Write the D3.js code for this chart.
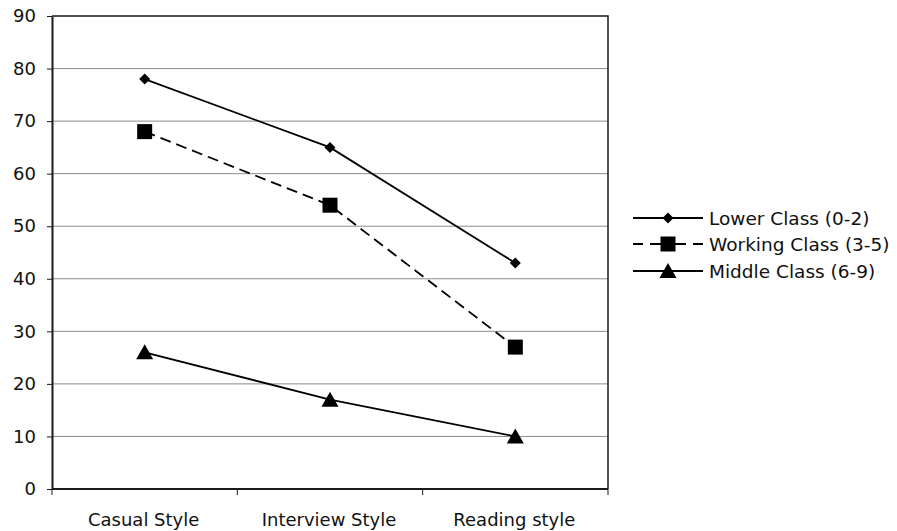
<!DOCTYPE html>
<html>
<head>
<meta charset="utf-8">
<script src="https://cdn.jsdelivr.net/npm/d3@7"></script>
<style>
  html, body { margin: 0; padding: 0; background: #fff; }
  svg { display: block; font-family: "DejaVu Sans", sans-serif; }
</style>
</head>
<body>
<svg id="chart" width="897" height="531"></svg>
<script>
// Speech styles along the x axis
const categories = ["Casual Style", "Interview Style", "Reading style"];

// Percentages per social class
const lowerClass = [78, 65, 43];
const workingClass = [68, 54, 27];
const middleClass = [26, 17, 10];

const seriesNames = ["Lower Class (0-2)", "Working Class (3-5)", "Middle Class (6-9)"];
const yTicks = [0, 10, 20, 30, 40, 50, 60, 70, 80, 90];

const series = [
  { name: seriesNames[0], values: lowerClass, dash: null, marker: "diamond" },
  { name: seriesNames[1], values: workingClass, dash: "11,6", marker: "square" },
  { name: seriesNames[2], values: middleClass, dash: null, marker: "triangle" }
];

const svg = d3.select("#chart");
const m = { left: 52, top: 16, right: 608, bottom: 489 };
const fontSize = 18;

const x = d3.scaleBand().domain(categories).range([m.left, m.right]);
const y = d3.scaleLinear().domain([0, 90]).range([m.bottom, m.top]);

// Horizontal gridlines
svg.append("g")
  .selectAll("line")
  .data(yTicks.filter(d => d > 0 && d < 90))
  .join("line")
  .attr("x1", m.left).attr("x2", m.right)
  .attr("y1", d => y(d)).attr("y2", d => y(d))
  .attr("stroke", "#8c8c8c").attr("stroke-width", 1);

// Plot frame (top and right)
svg.append("path")
  .attr("d", `M${m.left},${m.top}H${m.right}V${m.bottom}`)
  .attr("fill", "none").attr("stroke", "#1a1a1a").attr("stroke-width", 1.5);

// Y axis
const yAxis = svg.append("g")
  .attr("transform", `translate(${m.left},0)`)
  .call(d3.axisLeft(y).tickValues(yTicks).tickSize(5).tickPadding(11).tickSizeOuter(0));
yAxis.select(".domain").attr("stroke", "#1a1a1a").attr("stroke-width", 2);
yAxis.selectAll(".tick line").attr("stroke", "#1a1a1a");
yAxis.selectAll(".tick text").attr("font-size", fontSize).attr("fill", "#111")
  .attr("font-family", "DejaVu Sans, sans-serif");

// X axis: ticks sit at band boundaries, labels at band centres
const xAxisG = svg.append("g").attr("transform", `translate(0,${m.bottom})`);
xAxisG.append("line")
  .attr("x1", m.left).attr("x2", m.right)
  .attr("stroke", "#1a1a1a").attr("stroke-width", 2);
const boundaries = categories.map(c => x(c)).concat([x(categories[categories.length - 1]) + x.bandwidth()]);
xAxisG.selectAll(".bt")
  .data(boundaries)
  .join("line")
  .attr("x1", d => d).attr("x2", d => d)
  .attr("y1", 0).attr("y2", 6)
  .attr("stroke", "#1a1a1a").attr("stroke-width", 1);
xAxisG.selectAll(".xl")
  .data(categories)
  .join("text")
  .attr("x", d => x(d) + x.bandwidth() / 2 - 1)
  .attr("y", 37)
  .attr("text-anchor", "middle")
  .attr("font-size", fontSize).attr("fill", "#111")
  .text(d => d);

const cx = d => x(d) + x.bandwidth() / 2;

function drawMarker(g, type, px, py) {
  if (type === "diamond") {
    g.append("path")
      .attr("d", `M${px},${py - 5.5}L${px + 5.5},${py}L${px},${py + 5.5}L${px - 5.5},${py}Z`)
      .attr("fill", "#000");
  } else if (type === "square") {
    g.append("rect")
      .attr("x", px - 7.5).attr("y", py - 7.5)
      .attr("width", 15).attr("height", 15)
      .attr("fill", "#000");
  } else {
    g.append("path")
      .attr("d", `M${px},${py - 8}L${px + 8.5},${py + 7}L${px - 8.5},${py + 7}Z`)
      .attr("fill", "#000");
  }
}

const line = d3.line().x((d, i) => cx(categories[i])).y(d => y(d));

series.forEach(s => {
  const g = svg.append("g");
  g.append("path")
    .datum(s.values)
    .attr("d", line)
    .attr("fill", "none")
    .attr("stroke", "#000")
    .attr("stroke-width", 1.8)
    .attr("stroke-dasharray", s.dash);
  s.values.forEach((v, i) => drawMarker(g, s.marker, cx(categories[i]), y(v)));
});

// Legend
const legend = svg.append("g");
const legendY = [218, 244, 271];
series.forEach((s, i) => {
  const ly = legendY[i];
  legend.append("line")
    .attr("x1", 633).attr("x2", 703)
    .attr("y1", ly).attr("y2", ly)
    .attr("stroke", "#000").attr("stroke-width", 1.8)
    .attr("stroke-dasharray", s.dash ? "10,7,36,7" : null);
  drawMarker(legend, s.marker, 668, ly);
  legend.append("text")
    .attr("x", 709).attr("y", ly + 6.5)
    .attr("font-size", 18.5).attr("fill", "#111")
    .text(s.name);
});
</script>
</body>
</html>
